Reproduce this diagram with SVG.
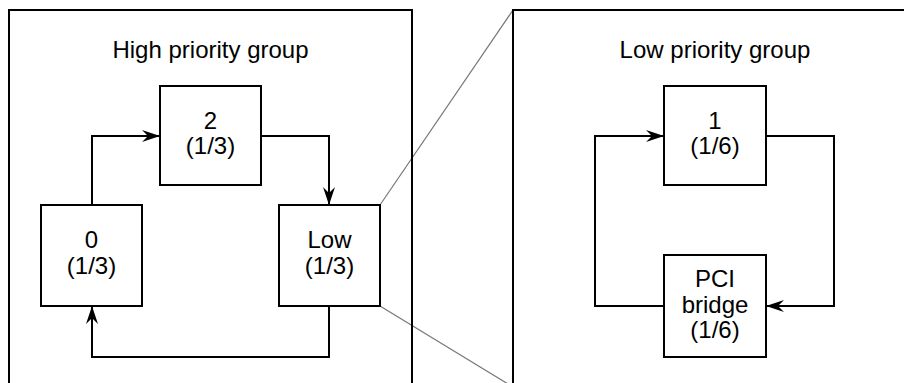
<svg xmlns="http://www.w3.org/2000/svg" width="904" height="383" viewBox="0 0 904 383">
<style>
.frame{fill:none;stroke:#000;stroke-width:2}
.box{fill:#fff;stroke:#000;stroke-width:2}
.conn{fill:none;stroke:#000;stroke-width:2}
.zoom{fill:none;stroke:#777;stroke-width:1.2}
text{font-family:"Liberation Sans",Arial,Helvetica,sans-serif;font-size:24px;fill:#000;text-anchor:middle}
</style>
<defs>
<marker id="arr" markerUnits="userSpaceOnUse" markerWidth="20" markerHeight="14" viewBox="-18 -7 20 14" refX="0" refY="0" orient="auto">
<path d="M1,0 L-17,-6 L-11,0 L-17,6 Z" fill="#000"/>
</marker>
</defs>
<g id="zoom-lines">
<line class="zoom" x1="380" y1="205" x2="513" y2="10"/>
<line class="zoom" x1="380" y1="306" x2="513" y2="387"/>
</g>
<g id="high-priority-group">
<path class="frame" d="M9,384 V10 H412 V384"/>
<text x="210.5" y="58">High priority group</text>
</g>
<g id="low-priority-group">
<path class="frame" d="M513,384 V10 H905"/>
<text x="715" y="58">Low priority group</text>
</g>
<g id="connectors">
<path class="conn" d="M92,205 V136 H159" marker-end="url(#arr)"/>
<path class="conn" d="M261,136 H329 V204" marker-end="url(#arr)"/>
<path class="conn" d="M329,306 V357 H92 V307" marker-end="url(#arr)"/>
<path class="conn" d="M664,306 H595 V136 H663" marker-end="url(#arr)"/>
<path class="conn" d="M766,136 H834 V306 H767" marker-end="url(#arr)"/>
</g>
<g id="node-2">
<rect class="box" x="160" y="86" width="101" height="99"/>
<text x="210.5" y="129">2</text>
<text x="210.5" y="154">(1/3)</text>
</g>
<g id="node-0">
<rect class="box" x="41" y="205" width="101" height="101"/>
<text x="91.5" y="248">0</text>
<text x="91.5" y="274">(1/3)</text>
</g>
<g id="node-low">
<rect class="box" x="279" y="205" width="101" height="101"/>
<text x="329.5" y="248">Low</text>
<text x="329.5" y="274">(1/3)</text>
</g>
<g id="node-1">
<rect class="box" x="664" y="86" width="102" height="99"/>
<text x="715" y="129">1</text>
<text x="715" y="154">(1/6)</text>
</g>
<g id="node-pci-bridge">
<rect class="box" x="664" y="255" width="102" height="102"/>
<text x="715" y="287">PCI</text>
<text x="715" y="313">bridge</text>
<text x="715" y="338">(1/6)</text>
</g>
</svg>
